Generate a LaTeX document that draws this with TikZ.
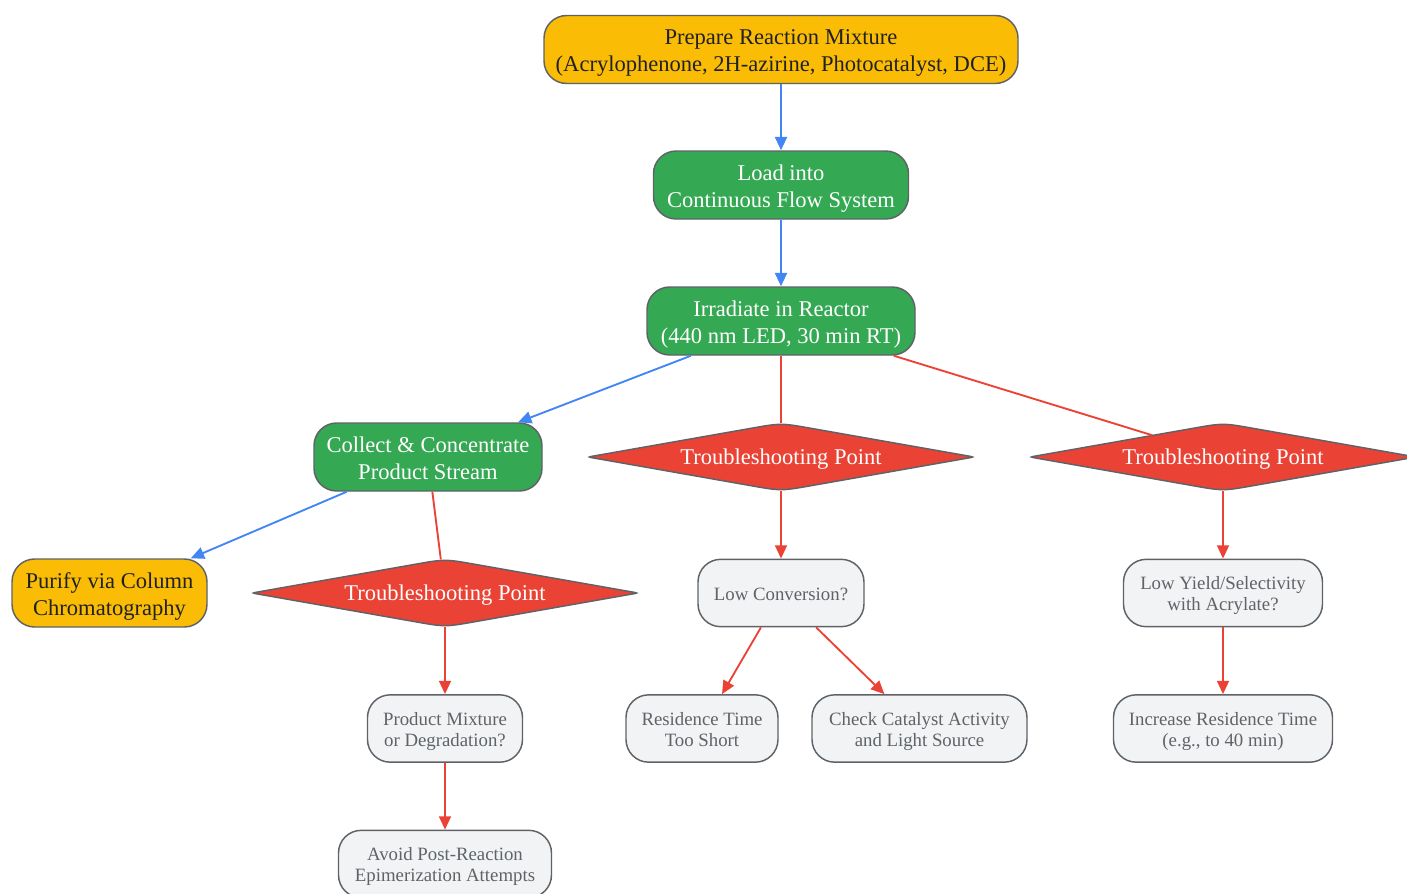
\documentclass[tikz,border=0pt]{standalone}
\usepackage{fontspec}
\setmainfont{Liberation Serif}
\usetikzlibrary{shapes.geometric,arrows.meta}
\definecolor{gyellow}{HTML}{FBBC05}
\definecolor{ggreen}{HTML}{34A853}
\definecolor{gred}{HTML}{EA4335}
\definecolor{gblue}{HTML}{4285F4}
\definecolor{glight}{HTML}{F1F3F4}
\definecolor{gborder}{HTML}{5F6368}
\definecolor{gdark}{HTML}{202124}
\newcommand{\upbig}{\rule{0pt}{17pt}}
\newcommand{\upsmall}{\rule{0pt}{14pt}}
\newcommand{\updiam}{\rule{0pt}{15.5pt}}
\newcommand{\dnbig}{\rule[-3.7pt]{0pt}{3.7pt}}
\newcommand{\dnsmall}{\rule[-3.1pt]{0pt}{3.1pt}}
\tikzset{
  base/.style={draw=gborder, line width=1.1pt, rounded corners=17pt, align=center, inner sep=0pt},
  bigtext/.style={font=\fontsize{16.9}{20.25}\selectfont},
  smalltext/.style={font=\fontsize{14.1}{15.75}\selectfont},
  ybox/.style={base, bigtext, fill=gyellow, text=gdark, minimum height=51pt},
  gbox/.style={base, bigtext, fill=ggreen, text=white, minimum height=51pt},
  qbox/.style={base, smalltext, fill=glight, text=gborder, minimum height=50.5pt},
  tdiamnode/.style={diamond, aspect=5.6, draw=none, text=white, bigtext, inner sep=0pt, minimum width=289.5pt, minimum height=51pt},
  tdiamshape/.style={fill=gred, draw=gborder, line width=1.1pt},
  bluearrow/.style={draw=gblue, line width=1.4pt, -{Triangle[length=10pt,width=9pt]}},
  redarrow/.style={draw=gred, line width=1.4pt, -{Triangle[length=10pt,width=9pt]}},
  redline/.style={draw=gred, line width=1.4pt},
}
% name, x, y (in px units)
\newcommand{\trouble}[3]{%
  \path[tdiamshape] (#2-187,#3-1.06) -- (#2-30,#3-28.7) .. controls (#2,#3-34) .. (#2+30,#3-28.7)
    -- (#2+187,#3-1.06) .. controls (#2+193,#3) .. (#2+187,#3+1.06)
    -- (#2+30,#3+28.7) .. controls (#2,#3+34) .. (#2-30,#3+28.7)
    -- (#2-187,#3+1.06) .. controls (#2-193,#3) .. (#2-187,#3-1.06) -- cycle;
  \node[tdiamnode] (#1) at (#2,#3) {\updiam Troubleshooting Point};
}
\begin{document}
\begin{tikzpicture}[x=0.75pt,y=-0.75pt]
\useasboundingbox (0,0) rectangle (1407,893);
\node[ybox, minimum width=355.5pt] (prep) at (781,49.5) {\upbig Prepare Reaction Mixture\\(Acrylophenone, 2H-azirine, Photocatalyst, DCE)};
\node[gbox, minimum width=191.25pt] (load) at (781,185) {\upbig Load into\\Continuous Flow System};
\node[gbox, minimum width=201pt] (irr) at (781,321) {\upbig Irradiate in Reactor\\(440 nm LED, 30 min RT)};
\node[gbox, minimum width=171pt] (collect) at (428,457) {\upbig Collect \& Concentrate\\Product Stream\dnbig};
\trouble{d1}{781}{457}
\trouble{d2}{1223}{457}
\node[ybox, minimum width=146.25pt] (purify) at (109.5,593) {\upbig Purify via Column\\Chromatography};
\trouble{d3}{445}{593}
\node[qbox, minimum width=124.5pt] (lowconv) at (781,593) {\upsmall Low Conversion?\dnsmall};
\node[qbox, minimum width=149.25pt] (lowyield) at (1223,593) {\upsmall Low Yield/Selectivity\\with Acrylate?};
\node[qbox, minimum width=116.25pt] (prodmix) at (445,728.5) {\upsmall Product Mixture\\or Degradation?};
\node[qbox, minimum width=114pt] (restime) at (702,728.5) {\upsmall Residence Time\\Too Short\dnsmall};
\node[qbox, minimum width=161.25pt] (checkcat) at (919.5,728.5) {\upsmall Check Catalyst Activity\\and Light Source};
\node[qbox, minimum width=164.25pt] (increase) at (1223,728.5) {\upsmall Increase Residence Time\\(e.g., to 40 min)};
\node[qbox, minimum width=159.75pt] (avoid) at (445,864) {\upsmall Avoid Post-Reaction\\Epimerization Attempts};

\draw[bluearrow] (prep) -- (load);
\draw[bluearrow] (load) -- (irr);
\draw[bluearrow] (irr) -- (collect);
\draw[redline] (irr) -- (d1);
\draw[redline] (irr) -- (d2);
\draw[bluearrow] (collect) -- (purify);
\draw[redline] (collect) -- (d3);
\draw[redarrow] (d1) -- (lowconv);
\draw[redarrow] (d2) -- (lowyield);
\draw[redarrow] (d3) -- (prodmix);
\draw[redarrow] (lowconv) -- (restime);
\draw[redarrow] (lowconv) -- (checkcat);
\draw[redarrow] (lowyield) -- (increase);
\draw[redarrow] (prodmix) -- (avoid);
\end{tikzpicture}
\end{document}
